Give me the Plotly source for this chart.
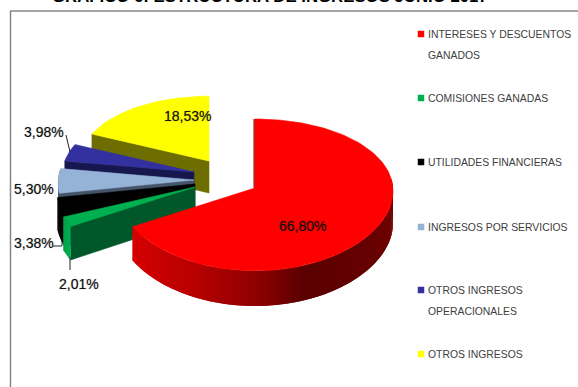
import math
import plotly.graph_objects as go

# Income structure, June 2017 (percent of total)
categories = [
    "INTERESES Y DESCUENTOS GANADOS",
    "COMISIONES GANADAS",
    "UTILIDADES FINANCIERAS",
    "INGRESOS POR SERVICIOS",
    "OTROS INGRESOS OPERACIONALES",
    "OTROS INGRESOS",
]
shares = [66.80, 2.01, 3.38, 5.30, 3.98, 18.53]
share_labels = ["66,80%", "2,01%", "3,38%", "5,30%", "3,98%", "18,53%"]
legend_lines = [
    ["INTERESES Y DESCUENTOS", "GANADOS"],
    ["COMISIONES GANADAS"],
    ["UTILIDADES FINANCIERAS"],
    ["INGRESOS POR SERVICIOS"],
    ["OTROS INGRESOS", "OPERACIONALES"],
    ["OTROS INGRESOS"],
]
title_text = "GRAFICO 6: ESTRUCTURA DE INGRESOS JUNIO 2017"

top_colors = ["#FF0000", "#00B050", "#000000", "#95B3D7", "#3330A0", "#FFFF00"]
cut_colors = ["#8A0000", "#00582A", "#000000", "#46546A", "#17174F", "#6E6E00"]
rim_stops = {
    0: [(80, "#A00000"), (100, "#700000"), (160, "#5A0000"), (180, "#900000"), (205, "#B80000"), (241, "#D80000")],
    1: [(240, "#00B050"), (248, "#00A048")],
    2: [(240, "#000000"), (270, "#000000")],
    3: [(255, "#46546A"), (285, "#46546A")],
    4: [(270, "#17174F"), (300, "#17174F")],
    5: [(290, "#6E6E00"), (360, "#6E6E00")],
}

# Pie geometry in page pixels, a tilted disc seen in perspective
apexes = [(255, 188), (195, 187), (195, 184), (194, 180), (194, 172), (209, 161)]
slice_scale = [0.985, 1.0, 0.99, 0.97, 0.94, 0.925]
RADIUS_X = 140.0
RADIUS_Y = 76.4
PERSPECTIVE_X = 0.04
PERSPECTIVE_Y = 0.0909
THICKNESS = 32.0


def project(idx, angle_deg, radius=1.0, drop=0.0):
    apex = apexes[idx]
    a = math.radians(angle_deg)
    across = radius * math.sin(a)
    toward = -radius * math.cos(a)
    w_x = 1.0 - PERSPECTIVE_X * toward
    w_y = 1.0 - PERSPECTIVE_Y * toward
    return (apex[0] + slice_scale[idx] * RADIUS_X * across / w_x,
            apex[1] + (slice_scale[idx] * RADIUS_Y * toward + drop * THICKNESS) / w_y)


def mix(stops, angle):
    if angle <= stops[0][0]:
        return stops[0][1]
    for (a0, c0), (a1, c1) in zip(stops, stops[1:]):
        if angle <= a1:
            t = (angle - a0) / (a1 - a0)
            rgb = [round(int(c0[i:i + 2], 16) * (1 - t) + int(c1[i:i + 2], 16) * t) for i in (1, 3, 5)]
            return "rgb(%d,%d,%d)" % tuple(rgb)
    return stops[-1][1]


def polygon(points, color, edge=0.6):
    return go.Scatter(
        x=[p[0] for p in points] + [points[0][0]],
        y=[p[1] for p in points] + [points[0][1]],
        mode="lines", fill="toself", fillcolor=color,
        line=dict(color=color, width=edge),
        hoverinfo="skip", showlegend=False,
    )


spans = []
running = 0.0
for share in shares:
    spans.append((running * 3.6, (running + share) * 3.6))
    running += share

fig = go.Figure()

# Paint back to front: yellow first, the large red slice last
for idx in [5, 4, 3, 2, 1, 0]:
    start, end = spans[idx]
    # Face left by the cut along the starting edge
    fig.add_trace(polygon([project(idx, start, 0), project(idx, start),
                           project(idx, start, 1, 1), project(idx, start, 0, 1)], cut_colors[idx]))
    # Curved outer wall, in narrow overlapping strips so the shading runs smoothly along it
    first = max(start, 82.0)
    last = min(end, 278.0)
    steps = max(2, int(last - first)) if last > first else 0
    for k in range(steps):
        a0 = first + (last - first) * k / steps
        a1 = first + (last - first) * (k + 1) / steps
        a1_over = min(last, a1 + 1.0)
        fig.add_trace(polygon([project(idx, a0), project(idx, a1_over),
                               project(idx, a1_over, 1, 1), project(idx, a0, 1, 1)],
                              mix(rim_stops[idx], (a0 + a1) / 2), edge=0))
    # Top face
    n = max(4, int((end - start) / 2))
    outline = [project(idx, start, 0)] + [project(idx, start + (end - start) * k / n) for k in range(n + 1)]
    fig.add_trace(polygon(outline, top_colors[idx]))

# Thin dark edge where the red slice begins at twelve o'clock
back_edge = [project(0, 0.0, 0), project(0, 0.0)]
fig.add_trace(go.Scatter(
    x=[p[0] - 1 for p in back_edge], y=[p[1] for p in back_edge], mode="lines",
    line=dict(color=cut_colors[0], width=1), hoverinfo="skip", showlegend=False,
))

# Swatches of the key
key_rows = [34, 98, 162, 227, 290, 354]
fig.add_trace(go.Scatter(
    x=[421] * len(key_rows), y=key_rows, mode="markers",
    marker=dict(symbol="square", size=6.5, color=top_colors, line=dict(width=0)),
    hoverinfo="skip", showlegend=False,
))

annotations = []


def put(text, x, y, size, color, xanchor="center", yanchor="middle", bold=False, shadow=None):
    font = dict(family="Liberation Sans", size=size, color=color)
    if shadow:
        font["shadow"] = shadow
    annotations.append(dict(
        text="<b>%s</b>" % text if bold else text, x=x, y=y, xref="x", yref="y",
        xanchor=xanchor, yanchor=yanchor, showarrow=False, font=font,
    ))


label_spots = [(302, 226), (79, 284), (34, 243), (34, 189), (44, 132), (187, 116)]
for text, (lx, ly) in zip(share_labels, label_spots):
    put(text, lx, ly, 14, "#111111", shadow="0 0 1px rgba(0,0,0,0.45)")

for lines, row in zip(legend_lines, key_rows):
    for j, line in enumerate(lines):
        put(line, 425.5, row + j * 21, 10.4, "#404040", xanchor="left")

put(title_text, 270, 8, 16.8, "#000000", yanchor="bottom", bold=True)

# Chart frame (left and top edges) and the leader lines
shapes = [
    dict(type="line", x0=10.5, y0=387, x1=10.5, y1=11, line=dict(color="#868686", width=1.5)),
    dict(type="line", x0=10, y0=11, x1=578, y1=11, line=dict(color="#868686", width=1.5)),
    dict(type="path", path="M 66 135 L 70 152", line=dict(color="#222222", width=1)),
    dict(type="path", path="M 53 246 L 62 246 L 62 240", line=dict(color="#222222", width=1)),
    dict(type="path", path="M 70 257 L 70 270", line=dict(color="#222222", width=1)),
]

fig.update_layout(
    width=578, height=387,
    margin=dict(l=0, r=0, t=0, b=0),
    paper_bgcolor="white", plot_bgcolor="white",
    xaxis=dict(range=[0, 578], visible=False, fixedrange=True),
    yaxis=dict(range=[387, 0], visible=False, fixedrange=True),
    showlegend=False,
    annotations=annotations, shapes=shapes,
)

fig.write_html("out.html", config={"displayModeBar": False})
